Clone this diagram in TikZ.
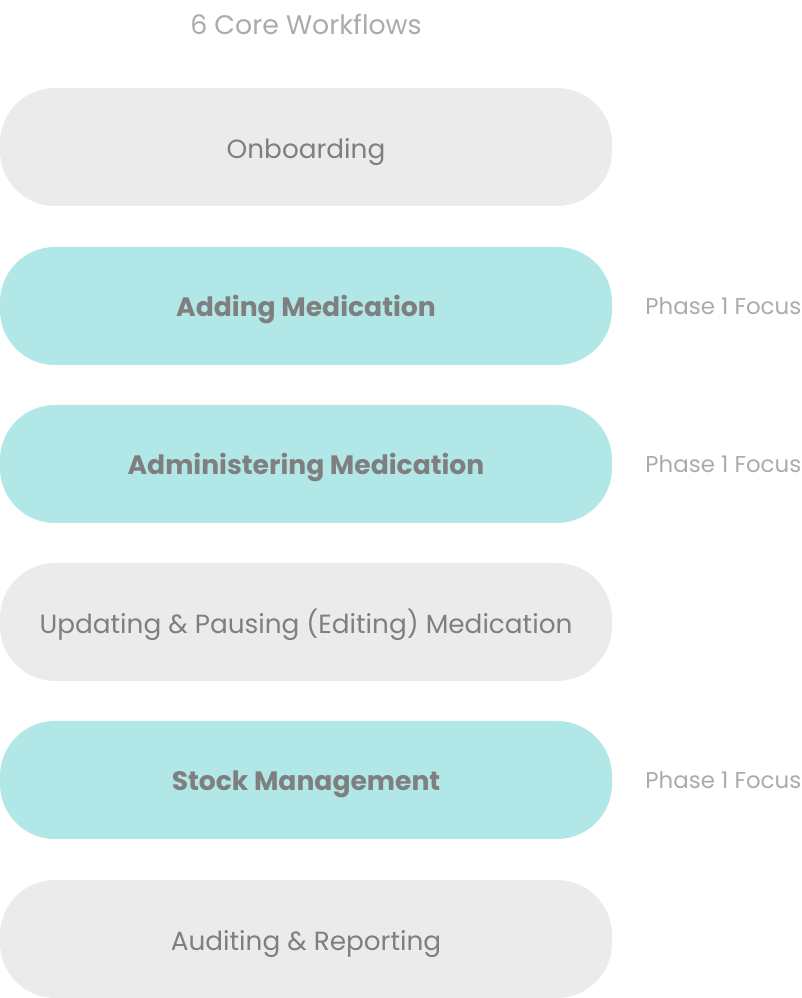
\documentclass[tikz,border=0pt]{standalone}
\usepackage{fontspec}
\setmainfont{Poppins}
\usetikzlibrary{positioning}
\definecolor{pillgrey}{HTML}{EBEBEB}
\definecolor{pillteal}{HTML}{B2E7E7}
\definecolor{textgrey}{HTML}{7F7F7F}
\definecolor{lightgrey}{HTML}{ABABAB}
\tikzset{
	pill/.style={fill=pillgrey, minimum width=612pt, minimum height=118pt, rounded corners=55pt, inner sep=0pt, text=textgrey, text height=24pt, text depth=0pt, font=\fontsize{26.3}{26.3}\selectfont},
	focus/.style={pill, fill=pillteal, text height=20.5pt, font=\fontsize{26.6}{26.6}\selectfont\bfseries},
	phase/.style={text=lightgrey, text height=18pt, text depth=0pt, font=\fontsize{22.9}{22.9}\selectfont, inner sep=0pt}
}

\begin{document}
\begin{tikzpicture}[x=1pt, y=1pt]
		%%%%% START %%%%%
		\useasboundingbox (0, 0) rectangle (802, 998);
		
		\node[text=lightgrey, text height=18.8pt, text depth=0pt, inner sep=0pt, font=\fontsize{26.8}{26.8}\selectfont] (title) at (306, 973) {6 Core Workflows};
		
		\node[pill] (onboard) at (306, 851) {Onboarding};
		\node[focus] (adding) at (306, 692) {Adding Medication};
		\node[focus] (admin) at (306, 534) {Administering Medication};
		\node[pill] (update) at (306, 376) {Updating \& Pausing (Editing) Medication};
		\node[focus] (stock) at (306, 218) {Stock Management};
		\node[pill] (audit) at (306, 59) {Auditing \& Reporting};
		
		\node[phase, right=33pt of adding] (addphase) {Phase 1 Focus};
		\node[phase, right=33pt of admin] (adminphase) {Phase 1 Focus};
		\node[phase, right=33pt of stock] (stockphase) {Phase 1 Focus};
		%%%%% END %%%%%
	\end{tikzpicture}
\end{document}
